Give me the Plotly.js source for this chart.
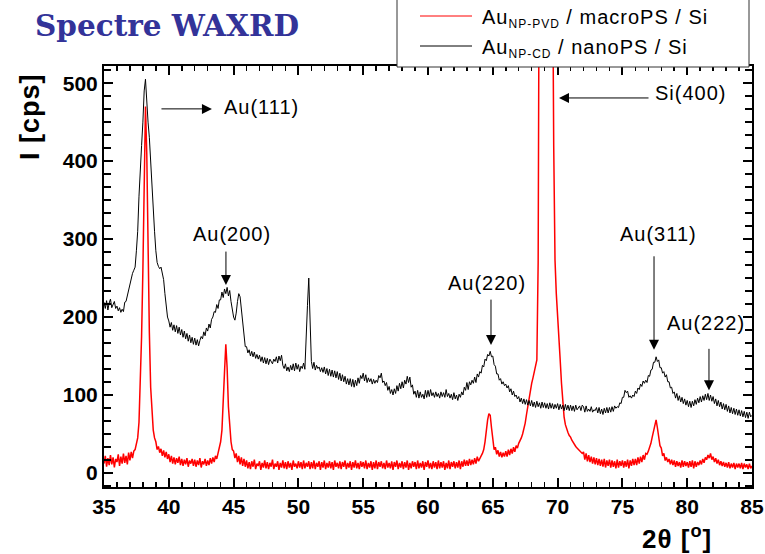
<!DOCTYPE html>
<html>
<head>
<meta charset="utf-8">
<script src="https://cdn.plot.ly/plotly-3.0.1.min.js"></script>
<style>
  html, body { margin: 0; padding: 0; background: #fff; }
  #chart { width: 765px; height: 554px; }
  .annotation-text { letter-spacing: 1px; }
</style>
</head>
<body>
<div id="chart"></div>
<script>
// WAXRD scan: 2θ from 35° to 85° in 0.1° steps
const scanStart = 35;
const scanStep = 0.1;

// Au nanoparticles (chemical deposition) on nano-porous Si, intensity in cps
const intensityNano = [
  219,211,221,209,218,223,212,215,220,211,
  214,208,212,206,210,207,219,220,228,234,
  244,250,256,260,264,285,310,355,395,420,
  450,490,505,470,450,430,395,370,340,310,
  285,270,265,262,264,255,248,230,212,200,
  195,187,193,183,190,181,189,179,187,177,
  184,174,182,172,179,169,177,167,174,165,
  173,164,171,163,170,175,172,181,176,186,
  182,191,186,197,200,207,206,216,211,222,
  222,232,225,236,230,238,227,234,220,210,
  200,196,205,220,230,226,209,190,170,162,
  162,154,158,150,156,149,155,147,152,146,
  151,143,149,141,148,140,147,139,146,142,
  140,146,143,149,141,150,144,151,138,134,
  140,131,136,130,138,132,140,131,141,133,
  139,130,137,134,141,133,165,215,250,188,
  143,134,142,132,138,134,136,130,135,129,
  136,127,134,125,133,124,132,123,131,122,
  130,120,128,118,126,117,124,114,121,113,
  121,111,120,110,119,112,122,115,125,121,
  128,118,126,116,122,117,121,114,120,115,
  119,116,125,122,128,116,118,112,116,106,
  111,102,107,100,108,102,112,105,115,108,
  117,109,119,114,124,116,123,110,113,101,
  105,97,106,96,104,97,101,95,106,97,
  106,98,107,99,103,97,104,98,102,96,
  104,98,103,97,107,98,102,96,101,94,
  103,95,100,93,101,97,104,100,110,106,
  116,107,117,113,119,115,123,116,127,123,
  130,128,138,136,146,144,152,150,156,149,
  150,139,137,127,127,119,121,114,117,112,
  114,109,112,104,108,100,105,98,100,95,
  98,91,96,89,95,88,94,87,93,86,
  93,85,91,84,92,85,90,83,91,84,
  90,83,89,82,90,83,89,82,88,83,
  89,81,88,82,87,80,88,81,87,80,
  87,80,86,79,87,81,83,86,80,87,
  85,78,86,79,82,79,85,78,81,80,
  84,77,84,76,82,75,83,77,84,77,
  84,78,85,79,86,83,85,84,90,89,
  97,97,106,103,105,97,99,96,100,98,
  105,102,109,107,114,111,118,115,119,116,
  125,124,132,133,142,142,149,143,145,135,
  135,128,130,123,126,117,117,109,110,102,
  104,96,102,93,99,91,97,89,95,87,
  93,85,92,84,92,86,94,88,96,90,
  98,91,99,93,101,94,102,93,100,92,
  98,89,95,86,93,85,91,82,89,81,
  88,79,86,77,84,76,83,75,82,74,
  81,73,80,72,79,71,78,70,78,72,
  74
];

// Au nanoparticles (PVD) on macro-porous Si, intensity in cps
const intensityMacro = [
  12,22,8,19,10,23,11,20,7,18,
  14,24,9,21,12,25,13,22,11,26,
  16,27,19,28,30,38,45,65,110,175,
  260,400,470,410,280,180,110,75,55,45,
  40,30,34,26,31,22,29,20,27,18,
  24,14,22,12,20,11,19,13,21,10,
  18,9,17,11,19,8,16,12,18,9,
  17,8,16,10,19,7,15,11,18,9,
  16,10,19,12,20,14,22,18,26,30,
  40,55,85,130,165,135,85,55,40,30,
  28,19,25,14,22,11,20,9,18,8,
  16,6,14,5,15,8,17,5,12,9,
  15,4,13,7,16,6,14,5,13,8,
  17,5,12,8,15,4,13,7,16,6,
  14,5,15,7,13,4,16,8,12,6,
  15,7,14,5,16,6,13,8,15,5,
  14,6,16,5,13,8,15,4,14,7,
  16,5,13,7,15,6,14,4,16,8,
  13,6,15,5,14,8,16,5,13,7,
  15,4,14,7,16,6,13,5,15,8,
  14,6,16,5,13,7,15,4,14,6,
  16,5,14,8,15,6,13,5,16,7,
  13,6,15,4,14,8,16,5,13,7,
  15,5,14,7,16,4,13,6,15,8,
  14,5,16,6,13,7,15,4,14,8,
  16,6,13,5,15,7,14,5,16,6,
  14,7,15,4,13,6,16,5,14,8,
  15,6,14,7,16,5,15,8,17,9,
  16,9,18,10,17,11,19,12,21,15,
  20,22,25,30,40,55,68,76,74,58,
  44,30,33,24,29,21,27,20,26,21,
  28,21,30,23,31,25,33,27,35,32,
  38,41,45,50,56,64,75,86,97,108,
  115,122,130,138,145,270,540,1200,2200,3000,
  3300,3400,3300,2900,2300,1500,700,420,273,230,
  195,165,145,115,88,72,62,56,52,48,
  46,42,39,37,34,32,30,28,27,25,
  27,17,25,15,23,14,21,12,20,11,
  19,10,18,9,17,8,18,7,16,9,
  17,7,16,8,15,6,17,7,15,9,
  16,7,15,8,17,6,16,9,18,10,
  18,10,20,12,21,14,23,17,25,24,
  28,32,38,46,55,62,68,58,45,35,
  32,22,25,16,20,14,18,11,17,10,
  16,8,15,9,14,7,16,8,15,9,
  14,7,15,8,16,6,15,8,14,10,
  16,11,18,13,20,17,23,19,25,17,
  21,14,19,12,17,10,15,9,14,8,
  13,7,14,6,12,7,13,5,12,7,
  12,6,13,5,12,7,11,5,12,6,
  9
];

const seriesNames = [
  'Au<sub><span style="font-size:12px">NP-PVD</span></sub> / macroPS / Si',
  'Au<sub><span style="font-size:12px">NP-CD</span></sub> / nanoPS / Si'
];
const seriesColors = ['#ff0000', '#000000'];

const xTickValues = [35, 40, 45, 50, 55, 60, 65, 70, 75, 80, 85];
const xTickLabels = ['35', '40', '45', '50', '55', '60', '65', '70', '75', '80', '85'];
const yTickValues = [0, 100, 200, 300, 400, 500];
const yTickLabels = ['0', '100', '200', '300', '400', '500'];

const peakLabels = ['Au(111)', 'Au(200)', 'Au(220)', 'Si(400)', 'Au(311)', 'Au(222)'];

// ---- geometry of the frame (pixels) ----
const W = 765, H = 554;
const frame = { left: 104, right: 752, top: 66, bottom: 487 };
const px2paperX = p => (p - frame.left) / (frame.right - frame.left);
const px2paperY = p => (frame.bottom - p) / (frame.bottom - frame.top);

const tickFont = { family: 'Liberation Sans, Arial, sans-serif', size: 21, color: '#000', weight: 'bold' };
const labelFont = { family: 'Liberation Sans, Arial, sans-serif', size: 20, color: '#000' };

const traces = [
  {
    type: 'scatter', mode: 'lines', name: seriesNames[0],
    x0: scanStart, dx: scanStep, y: intensityMacro,
    line: { color: seriesColors[0], width: 1.5 }
  },
  {
    type: 'scatter', mode: 'lines', name: seriesNames[1],
    x0: scanStart, dx: scanStep, y: intensityNano,
    line: { color: seriesColors[1], width: 1 }
  }
];

// arrow heads (data coords) with tail offsets in pixels, then label centres
const arrowSpecs = [
  { x: 43.33, y: 467, ax: -52, ay: 0 },
  { x: 44.41, y: 241, ax: 0, ay: -35 },
  { x: 64.86, y: 164, ax: 0, ay: -47 },
  { x: 70.11, y: 481, ax: 91, ay: 0 },
  { x: 77.44, y: 158, ax: 0, ay: -95 },
  { x: 81.68, y: 106, ax: 0, ay: -43 }
];
const labelSpots = [
  { x: 47.19, y: 469 },
  { x: 44.88, y: 306 },
  { x: 64.55, y: 244 },
  { x: 80.29, y: 487 },
  { x: 77.82, y: 306 },
  { x: 81.45, y: 192 }
];

const annotations = [];
arrowSpecs.forEach(a => annotations.push({
  x: a.x, y: a.y, xref: 'x', yref: 'y', text: '', showarrow: true,
  ax: a.ax, ay: a.ay, arrowhead: 2, arrowsize: 2, arrowwidth: 1,
  arrowcolor: '#000', standoff: 0, startstandoff: 0
}));
peakLabels.forEach((t, i) => annotations.push({
  x: labelSpots[i].x, y: labelSpots[i].y, xref: 'x', yref: 'y',
  text: t, showarrow: false, font: labelFont,
  xanchor: 'center', yanchor: 'middle'
}));

// axis titles
annotations.push({
  xref: 'paper', yref: 'paper', x: px2paperX(30), y: px2paperY(117),
  text: 'I [cps]', textangle: -90, showarrow: false,
  xanchor: 'center', yanchor: 'middle',
  font: { family: 'Liberation Sans, Arial, sans-serif', size: 27, color: '#000', weight: 'bold' }
});
annotations.push({
  xref: 'paper', yref: 'paper', x: px2paperX(677), y: px2paperY(537),
  text: '2θ [<sup>o</sup>]', showarrow: false,
  xanchor: 'center', yanchor: 'middle',
  font: { family: 'Liberation Sans, Arial, sans-serif', size: 26, color: '#000', weight: 'bold' }
});

// legend box entries
const legendRows = [16, 46];
legendRows.forEach((py, i) => annotations.push({
  xref: 'paper', yref: 'paper', x: px2paperX(480), y: px2paperY(py + 2),
  text: seriesNames[i], showarrow: false, xanchor: 'left', yanchor: 'middle',
  font: { family: 'Liberation Sans, Arial, sans-serif', size: 20, color: '#000' }
}));

const shapes = [
  {
    type: 'rect', xref: 'paper', yref: 'paper', layer: 'above',
    x0: px2paperX(397), x1: px2paperX(749), y0: px2paperY(67), y1: px2paperY(-10),
    fillcolor: '#ffffff', line: { color: '#333', width: 1 }
  }
];
legendRows.forEach((py, i) => shapes.push({
  type: 'line', xref: 'paper', yref: 'paper', layer: 'above',
  x0: px2paperX(420), x1: px2paperX(472), y0: px2paperY(py), y1: px2paperY(py),
  line: { color: seriesColors[i], width: 1 }
}));

const layout = {
  width: W, height: H,
  margin: { l: frame.left, r: W - frame.right, t: frame.top, b: H - frame.bottom, pad: 0 },
  paper_bgcolor: '#fff', plot_bgcolor: '#fff',
  showlegend: false,
  title: {
    text: 'Spectre WAXRD',
    font: { family: 'DejaVu Serif, serif', size: 29.5, color: '#333399', weight: 'bold' },
    xref: 'container', yref: 'container', x: 35 / W, xanchor: 'left',
    y: 1 - 26 / H, yanchor: 'middle'
  },
  xaxis: {
    range: [35, 85], showgrid: false, zeroline: false,
    showline: true, linecolor: '#000', linewidth: 2, mirror: 'ticks',
    ticks: 'inside', ticklen: 9, tickwidth: 2, tickcolor: '#000',
    tickmode: 'array', tickvals: xTickValues, ticktext: xTickLabels,
    tickfont: tickFont,
    minor: { dtick: 1, ticks: 'inside', ticklen: 5, tickwidth: 1.5, tickcolor: '#000' }
  },
  yaxis: {
    range: [-18, 522], showgrid: false, zeroline: false,
    showline: true, linecolor: '#000', linewidth: 2, mirror: 'ticks',
    ticks: 'inside', ticklen: 9, tickwidth: 2, tickcolor: '#000',
    tickmode: 'array', tickvals: yTickValues, ticktext: yTickLabels,
    tickfont: tickFont,
    minor: { tick0: 0, dtick: 100 / 6, ticks: 'inside', ticklen: 7, tickwidth: 1.5, tickcolor: '#000' }
  },
  annotations: annotations,
  shapes: shapes
};

Plotly.newPlot('chart', traces, layout, { displayModeBar: false, staticPlot: true });
</script>
</body>
</html>
